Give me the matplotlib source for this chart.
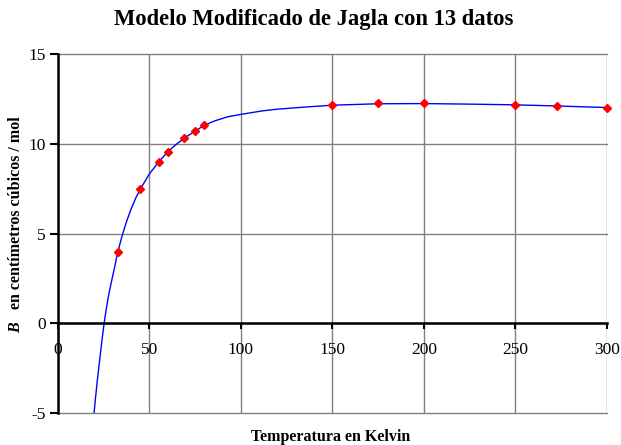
import matplotlib
matplotlib.use("Agg")
import matplotlib.pyplot as plt
from matplotlib.offsetbox import TextArea, VPacker, AnchoredOffsetbox

# Data points (Temperature K, B cm^3/mol)
temps = [33, 45, 55, 60, 69, 75, 80, 150, 175, 200, 250, 273, 300]
b_vals = [3.99, 7.48, 8.97, 9.56, 10.31, 10.71, 11.04, 12.16, 12.25, 12.25, 12.16, 12.11, 12.02]

# Fitted model curve
curve_t = [19.7, 20.5, 21.5, 22.5, 23.4, 24.3, 25.2, 26.2, 27.2, 28.3, 29.4, 31.0, 32.7,
           35.0, 37.5, 40.0, 42.5, 45.0, 50.0, 55.0, 60.0, 65.0, 70.0, 75.0, 80.0, 86.0,
           93.0, 100.0, 111.5, 119.0, 134.0, 150.0, 175.0, 200.0, 225.0, 250.0, 275.0, 300.0]
curve_b = [-5.0, -4.15, -3.16, -2.28, -1.49, -0.72, 0.0, 0.68, 1.30, 1.88, 2.41, 3.15, 3.99,
           4.86, 5.68, 6.38, 6.98, 7.48, 8.33, 8.98, 9.56, 10.0, 10.38, 10.71, 11.03, 11.29,
           11.51, 11.64, 11.83, 11.92, 12.04, 12.15, 12.23, 12.24, 12.21, 12.17, 12.10, 12.02]

x_ticks = [0, 50, 100, 150, 200, 250, 300]
y_ticks = [-5, 0, 5, 10, 15]

plt.rcParams['font.family'] = ['Liberation Serif', 'DejaVu Serif']
plt.rcParams['axes.unicode_minus'] = False

fig = plt.figure(figsize=(6.21, 4.45), dpi=100)
ax = fig.add_axes([58/621, 1-413.3/445, (606.7-58)/621, (413.3-54)/445])

ax.plot(curve_t, curve_b, color='#0000FF', lw=1.0, zorder=3)
ax.plot(temps, b_vals, linestyle='none', marker='D', markersize=4.3,
        color='#FF0000', markeredgecolor='#FF0000', zorder=4, clip_on=False)

ax.set_xlim(0, 300)
ax.set_ylim(-5, 15)
ax.set_xticks(x_ticks)
ax.set_yticks(y_ticks)
ax.grid(True, color='#808080', lw=1.0, zorder=0)
ax.set_axisbelow(True)
for gl in ax.get_xgridlines() + ax.get_ygridlines():
    gl.set_clip_on(False)

for s in ['top', 'right']:
    ax.spines[s].set_visible(False)
ax.spines['left'].set_linewidth(1.8)
ax.spines['left'].set_color('black')
ax.spines['bottom'].set_position(('data', 0))
ax.spines['bottom'].set_linewidth(1.8)
ax.spines['bottom'].set_color('black')
ax.spines['left'].set_zorder(5)
ax.spines['bottom'].set_zorder(5)

ax.tick_params(axis='y', direction='out', length=6, width=1.5, pad=3, labelsize=12.5)
ax.tick_params(axis='x', direction='out', length=4, width=1.5, pad=9, labelsize=12.5)

fig.text(314/621, 1-20/445, 'Modelo Modificado de Jagla con 13 datos', ha='center', va='center',
         fontsize=16.3, fontweight='bold')
fig.text(331/621, 1-437/445, 'Temperatura en Kelvin', ha='center', va='center',
         fontsize=11.5, fontweight='bold')

# y label with italic bold B
ta1 = TextArea('B', textprops=dict(fontsize=11.5, fontweight='bold', fontstyle='italic', rotation=90))
ta2 = TextArea('  en centímetros cúbicos / mol', textprops=dict(fontsize=11.5, fontweight='bold', rotation=90))
box = VPacker(children=[ta2, ta1], align='center', pad=0, sep=0)
ab = AnchoredOffsetbox(loc='center', child=box, frameon=False,
                       bbox_to_anchor=(16/621, 1-225/445), bbox_transform=fig.transFigure,
                       pad=0, borderpad=0)
fig.add_artist(ab)

fig.savefig('out.png', dpi=100)
